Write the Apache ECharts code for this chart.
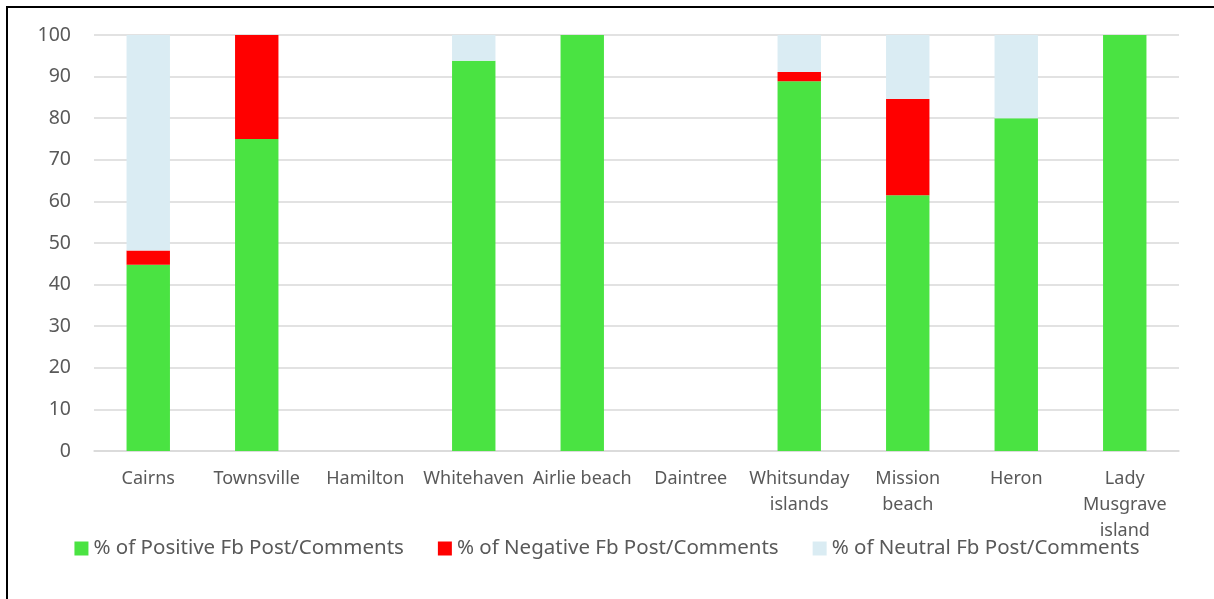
<!DOCTYPE html>
<html style="height: 100%;width: 100%">
<head>
    <meta charset="UTF-8">
    <script type="text/javascript" src="https://cdn.jsdelivr.net/npm/echarts@6/dist/echarts.min.js"></script>
    <title>Fb sentiment</title>
    <style>
    html, body { margin: 0; padding: 0; background: #fff; }
</style>
</head>
<body style="width: 100%;height: 100%;">
<div id="main" style="width: 1214px;height:599px;"></div>
<script type="text/javascript">
    // data
    var places = ['Cairns', 'Townsville', 'Hamilton', 'Whitehaven', 'Airlie beach', 'Daintree',
        'Whitsunday islands', 'Mission beach', 'Heron', 'Lady Musgrave island'];
    var tickLabels = ['Cairns', 'Townsville', 'Hamilton', 'Whitehaven', 'Airlie beach', 'Daintree',
        'Whitsunday\nislands', 'Mission\nbeach', 'Heron', 'Lady\nMusgrave\nisland'];
    var positive = [44.8, 75, 0, 93.8, 100, 0, 88.9, 61.5, 80, 100];
    var negative = [3.4, 25, 0, 0, 0, 0, 2.2, 23.1, 0, 0];
    var neutral = [51.8, 0, 0, 6.2, 0, 0, 8.9, 15.4, 20, 0];
    var seriesNames = ['% of Positive Fb Post/Comments', '% of Negative Fb Post/Comments', '% of Neutral Fb Post/Comments'];
    var colors = ['#4ae342', '#ff0000', '#daecf3'];

    var myChart = echarts.init(document.getElementById('main'));
    var font = 'Noto Sans';

    function bar(i, vals) {
        return {
            name: seriesNames[i],
            type: 'bar',
            stack: 'all',
            barWidth: '40%',
            itemStyle: {color: colors[i]},
            data: vals
        };
    }

    var option = {
        animation: false,
        color: colors,
        // frame around the chart, only left and top edges fall inside the picture
        graphic: [{
            type: 'rect',
            shape: {x: 7, y: 7, width: 1400, height: 800},
            style: {fill: 'none', stroke: '#000', lineWidth: 2}
        }],
        grid: {left: 94, right: 35, top: 35, bottom: 148},
        legend: {
            left: 'center',
            top: 533,
            icon: 'rect',
            itemWidth: 14,
            itemHeight: 14,
            itemGap: 34,
            textStyle: {fontFamily: font, fontSize: 20.5, color: '#595959'},
            data: seriesNames
        },
        xAxis: {
            type: 'category',
            data: places,
            axisLine: {lineStyle: {color: '#d9d9d9', width: 1.5}},
            axisTick: {show: false},
            axisLabel: {
                interval: 0,
                margin: 15,
                fontFamily: font,
                fontSize: 18,
                lineHeight: 26,
                color: '#595959',
                formatter: function (v, idx) { return tickLabels[idx]; }
            }
        },
        yAxis: {
            type: 'value',
            min: 0,
            max: 100,
            interval: 10,
            axisLine: {show: false},
            axisTick: {show: false},
            splitLine: {lineStyle: {color: '#d9d9d9', width: 1.5}},
            axisLabel: {margin: 23, fontFamily: font, fontSize: 19.5, color: '#595959'}
        },
        series: [bar(0, positive), bar(1, negative), bar(2, neutral)]
    };

    myChart.setOption(option);
</script>
</body>
</html>
